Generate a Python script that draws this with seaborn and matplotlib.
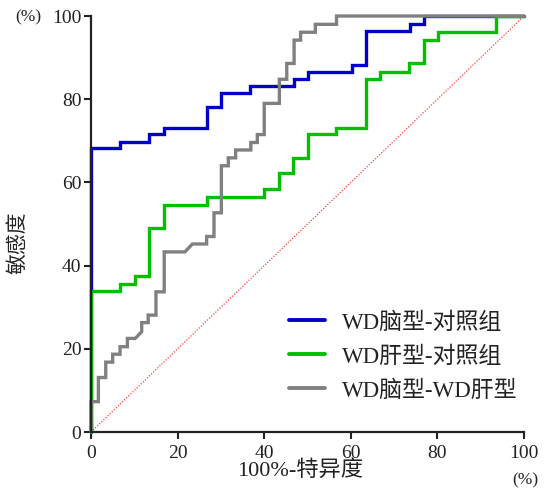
import matplotlib
matplotlib.use("Agg")
import matplotlib.pyplot as plt
import seaborn as sns
import pandas as pd

# ---- data ----
series_names = ["WD脑型-对照组", "WD肝型-对照组", "WD脑型-WD肝型"]

blue_x = [0, 0, 6.7, 6.7, 13.4, 13.4, 16.9, 16.9, 26.7, 26.7, 30.0, 30.0, 36.8, 36.8,
          46.9, 46.9, 50.2, 50.2, 60.3, 60.3, 63.4, 63.4, 73.7, 73.7, 76.9, 76.9, 100]
blue_y = [0, 68.2, 68.2, 69.8, 69.8, 71.6, 71.6, 73.2, 73.2, 78.2, 78.2, 81.6, 81.6, 83.2,
          83.2, 84.9, 84.9, 86.6, 86.6, 88.2, 88.2, 96.5, 96.5, 98.2, 98.2, 100, 100]

green_x = [0, 0, 6.7, 6.7, 10.2, 10.2, 13.4, 13.4, 16.9, 16.9, 26.7, 26.7, 40.0, 40.0,
           43.5, 43.5, 46.7, 46.7, 50.2, 50.2, 56.6, 56.6, 63.5, 63.5, 66.7, 66.7,
           73.5, 73.5, 76.8, 76.8, 80.1, 80.1, 93.5, 93.5, 100]
green_y = [0, 33.9, 33.9, 35.7, 35.7, 37.6, 37.6, 49.0, 49.0, 54.6, 54.6, 56.5, 56.5, 58.3,
           58.3, 62.2, 62.2, 65.8, 65.8, 71.6, 71.6, 73.2, 73.2, 84.8, 84.8, 86.6,
           86.6, 88.6, 88.6, 94.2, 94.2, 96.1, 96.1, 100, 100]

gray_x = [0, 0, 1.7, 1.7, 3.4, 3.4, 5.0, 5.0, 6.7, 6.7, 8.4, 8.4, 10.2, 11.7, 11.7, 13.2,
          13.2, 15.0, 15.0, 16.9, 16.9, 21.7, 23.4, 26.7, 26.7, 28.4, 28.4, 30.1, 30.1,
          31.7, 31.7, 33.4, 33.4, 36.9, 36.9, 38.4, 38.4, 40.0, 40.0, 43.5, 43.5, 45.2,
          45.2, 46.9, 46.9, 48.4, 48.4, 51.8, 51.8, 56.7, 56.7, 100]
gray_y = [0, 7.3, 7.3, 13.1, 13.1, 16.8, 16.8, 18.7, 18.7, 20.5, 20.5, 22.5, 22.5, 24.1, 26.3, 26.3,
          28.1, 28.1, 33.7, 33.7, 43.3, 43.3, 45.2, 45.2, 47.0, 47.0, 52.7, 52.7, 64.0,
          64.0, 65.9, 65.9, 67.8, 67.8, 69.6, 69.6, 71.5, 71.5, 79.0, 79.0, 84.8, 84.8,
          88.6, 88.6, 94.2, 94.2, 96.1, 96.1, 98.0, 98.0, 100, 100]

ref_x = [0, 100]
ref_y = [0, 100]

x_ticks = [0, 20, 40, 60, 80, 100]
y_ticks = [0, 20, 40, 60, 80, 100]

# ---- style ----
sns.set_style("ticks")
plt.rcParams['font.family'] = ['Liberation Serif', 'Noto Sans CJK SC', 'DejaVu Sans']
plt.rcParams['axes.unicode_minus'] = False

fig = plt.figure(figsize=(5.5, 4.93), dpi=100)
ax = fig.add_axes([0.1655, 0.1237, 0.7873, 0.8438])

colors = ["#0000C8", "#00C000", "#808080"]
frames = []
for name, xs, ys in zip(series_names, [blue_x, green_x, gray_x], [blue_y, green_y, gray_y]):
    frames.append(pd.DataFrame({"x": xs, "y": ys, "series": name}))
df = pd.concat(frames, ignore_index=True)

ax.plot(ref_x, ref_y, linestyle=(0, (1, 1.3)), color="#FF4040", linewidth=0.9, zorder=1)

sns.lineplot(data=df, x="x", y="y", hue="series", palette=colors, sort=False,
             estimator=None, units="series", linewidth=2.4, ax=ax, legend=True)
for ln in ax.lines:
    ln.set_clip_on(False)
    ln.set_solid_joinstyle("miter")

ax.set_xlim(0, 100)
ax.set_ylim(0, 100)
ax.set_xticks(x_ticks)
ax.set_yticks(y_ticks)
ax.tick_params(axis="both", labelsize=14, length=5, width=1.5, color="#222222",
               labelcolor="#222222", direction="out", pad=2)
ax.tick_params(axis="x", pad=4)
for sp in ["left", "bottom"]:
    ax.spines[sp].set_linewidth(1.6)
    ax.spines[sp].set_color("#222222")
sns.despine(ax=ax)

ax.set_xlabel("100%-特异度", fontsize=16, color="#222222")
ax.xaxis.set_label_coords(0.483, -0.07)
ax.set_ylabel("敏感度", fontsize=15, color="#222222")
ax.yaxis.set_label_coords(-0.145, 0.455)

fig.text(28 / 550, 1 - 17 / 493, "(%)", fontsize=12.5, color="#222222", ha="center", va="center")
fig.text(525 / 550, 1 - 480 / 493, "(%)", fontsize=12.5, color="#222222", ha="center", va="center")

handles, labels = ax.get_legend_handles_labels()
leg = ax.legend(handles, labels, loc="center left", bbox_to_anchor=(0.458, 0.181),
                frameon=False, fontsize=16.5, handlelength=1.55, handletextpad=0.75,
                labelspacing=0.55, borderpad=0, borderaxespad=0)
for h in leg.legend_handles:
    h.set_linewidth(2.8)
for t in leg.get_texts():
    t.set_color("#222222")

fig.savefig("out.png", dpi=100)
